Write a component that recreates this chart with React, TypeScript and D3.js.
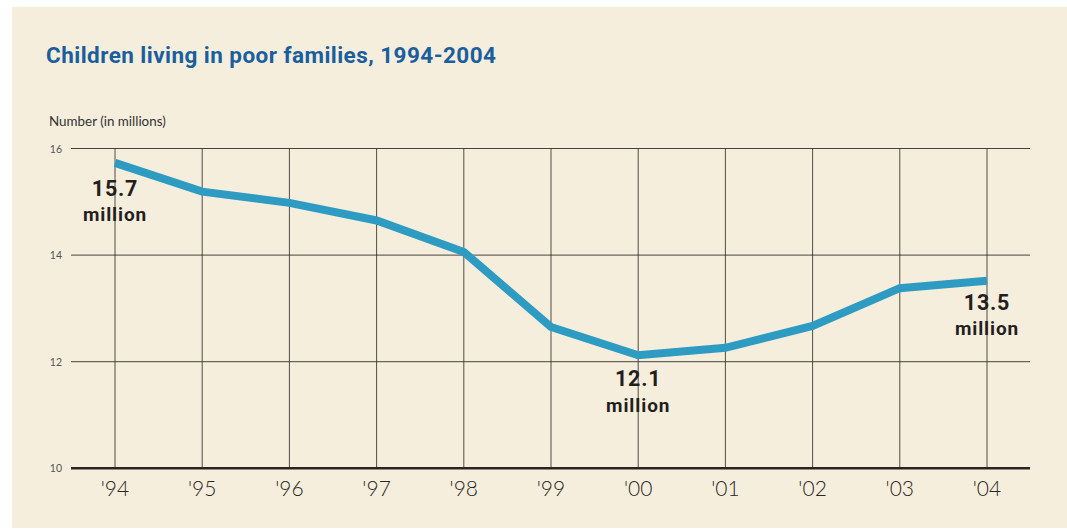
import React from "react";
import * as d3 from "d3";

const years = ["'94", "'95", "'96", "'97", "'98", "'99", "'00", "'01", "'02", "'03", "'04"];
const children = [15.73, 15.19, 14.98, 14.65, 14.06, 12.65, 12.12, 12.26, 12.67, 13.38, 13.52];
const yTicks = [10, 12, 14, 16];
const annotations = [
  { index: 0, value: "15.7", unit: "million", dy: 33 },
  { index: 6, value: "12.1", unit: "million", dy: 31 },
  { index: 10, value: "13.5", unit: "million", dy: 29 },
];
const title = "Children living in poor families, 1994-2004";
const yAxisTitle = "Number (in millions)";

const W = 1067;
const H = 529;

export default function App() {
  const x = d3.scalePoint<string>().domain(years).range([115, 987]);
  const y = d3.scaleLinear().domain([10, 16]).range([468.3, 148.5]);
  const gridLeft = 71;
  const gridRight = 1030;

  const line = d3
    .line<number>()
    .x((_, i) => x(years[i]) as number)
    .y((d) => y(d));

  const bold = "'Roboto', 'Liberation Sans', sans-serif";
  const sans = "'Lato', 'Open Sans', 'Roboto', sans-serif";

  return (
    <svg
      width={W}
      height={H}
      style={{ position: "absolute", left: 0, top: 0, display: "block" }}
    >
      <rect x={0} y={0} width={W} height={H} fill="#ffffff" />
      <rect x={12} y={7} width={W - 12} height={H - 8} fill="#f5eedd" />
      <text
        x={46}
        y={62.5}
        fontFamily={bold}
        fontWeight={700}
        fontSize={22.5}
        letterSpacing={0.45}
        fill="#1a5e9e"
      >
        {title}
      </text>
      <text x={49} y={126} fontFamily={sans} fontSize={13.4} fill="#333">
        {yAxisTitle}
      </text>
      {yTicks.map((t) => (
        <g key={t}>
          <line
            x1={gridLeft}
            x2={gridRight}
            y1={y(t)}
            y2={y(t)}
            stroke="#2b2523"
            strokeWidth={t === 10 ? 2.6 : 1}
            opacity={t === 10 ? 1 : 0.85}
          />
          <text
            x={62}
            y={y(t) + 4}
            textAnchor="end"
            fontFamily={sans}
            fontSize={10.5}
            fill="#555"
          >
            {t}
          </text>
        </g>
      ))}
      {years.map((yr) => (
        <line
          key={yr}
          x1={x(yr)}
          x2={x(yr)}
          y1={y(16)}
          y2={y(10)}
          stroke="#2b2523"
          strokeWidth={1}
          opacity={0.8}
        />
      ))}
      {years.map((yr) => (
        <text
          key={"l" + yr}
          x={x(yr)}
          y={496}
          textAnchor="middle"
          fontFamily={sans}
          fontWeight={300}
          fontSize={21}
          fill="#2b2523"
        >
          {yr}
        </text>
      ))}
      <path
        d={line(children) || ""}
        fill="none"
        stroke="#2e9bc2"
        strokeWidth={8}
        strokeLinejoin="miter"
        strokeLinecap="butt"
      />
      {annotations.map((a) => {
        const cx = x(years[a.index]) as number;
        const cy = y(children[a.index]);
        return (
          <g key={a.value}>
            <text
              x={cx}
              y={cy + a.dy}
              textAnchor="middle"
              fontFamily={bold}
              fontWeight={700}
              fontSize={21.5}
              letterSpacing={0.8}
              fill="#231f1e"
            >
              {a.value}
            </text>
            <text
              x={cx}
              y={cy + a.dy + 25.5}
              textAnchor="middle"
              fontFamily={bold}
              fontWeight={700}
              fontSize={19}
              letterSpacing={0.9}
              fill="#231f1e"
            >
              {a.unit}
            </text>
          </g>
        );
      })}
    </svg>
  );
}
